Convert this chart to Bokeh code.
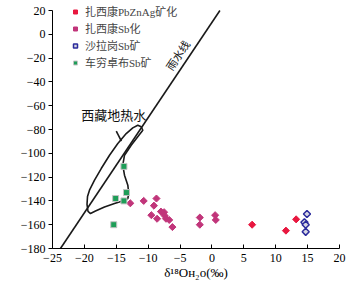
import numpy as np
from bokeh.plotting import figure
from bokeh.models import (Legend, LegendItem, Label, Range1d, FixedTicker)
from bokeh.embed import file_html
from bokeh.resources import INLINE

# ---- data ----
# 扎西康PbZnAg矿化
pbznag_x = [6.3, 11.6, 13.2]
pbznag_y = [-160, -165, -155.5]
# 扎西康Sb化
zxk_sb_x = [-12.8, -10.7, -8.7, -9.1, -9.5, -8.6, -8.0, -7.5, -7.4, -7.2, -6.7, -6.2, -1.9, -1.9, 0.5, 0.6]
zxk_sb_y = [-142, -140, -138, -144, -152, -155, -149, -149.5, -152.5, -155, -156, -162, -154, -160, -152, -156]
# 沙拉岗Sb矿
slg_x = [14.9, 14.5, 14.7, 14.7]
slg_y = [-151, -158, -160, -166]
# 车穷卓布Sb矿
cqzb_x = [-13.8, -13.4, -15.1, -13.8, -15.4]
cqzb_y = [-111, -133, -138, -140, -160]

# Global meteoric water line dD = 8*d18O + 10
gmwl_x = [-23.75, 1.25]
gmwl_y = [8 * v + 10 for v in gmwl_x]

# 西藏地热水 field outline
geo_x = [-11.63, -11.09, -10.84, -11.63, -12.66, -13.71, -13.98, -13.71, -13.19, -13.04,
         -13.19, -14.02, -15.28, -16.85, -18.26, -19.04, -19.43, -19.59, -19.51, -19.2,
         -18.41, -17.36, -16.06, -14.76, -13.44, -12.41]
geo_y = [-76.4, -77.7, -80.6, -86.1, -93.2, -101.6, -110, -118.4, -126.8, -133.8,
         -138, -140.1, -142.2, -145.1, -148.5, -150.6, -148.9, -143, -136.3, -131,
         -122.6, -112.8, -101.6, -91.8, -83.4, -78.6]
leader_x = [-15.0, -14.2]
leader_y = [-81.3, -89.8]

x_ticks = list(range(-25, 21, 5))
y_ticks = list(range(-180, 21, 20))
y_axis_bounds = (-180, 20)

legend_labels = ["扎西康PbZnAg矿化", "扎西康Sb化", "沙拉岗Sb矿", "车穷卓布Sb矿"]

SERIF = "Liberation Serif"
CJK = "'Liberation Serif', 'Noto Sans CJK SC'"

# frame extends 8px above the top tick so the legend is not clipped
p = figure(frame_width=287, frame_height=246,
           x_range=Range1d(-25, 20), y_range=Range1d(-180, 20 + 8 / 1.19),
           output_backend="svg", toolbar_location=None,
           min_border_left=52, min_border_right=14,
           min_border_top=2, min_border_bottom=36)
p.outline_line_color = None
p.grid.visible = False
p.background_fill_color = "white"

p.xaxis.ticker = FixedTicker(ticks=x_ticks)
p.yaxis.ticker = FixedTicker(ticks=y_ticks)
p.yaxis.bounds = y_axis_bounds
for ax in (p.xaxis[0], p.yaxis[0]):
    ax.minor_tick_line_color = None
    ax.axis_line_color = "black"
    ax.major_tick_line_color = "black"
    ax.major_label_text_font = SERIF
    ax.major_label_text_font_size = "12px"
    ax.major_label_text_color = "black"
    ax.axis_label_text_font = SERIF
    ax.axis_label_text_font_size = "13px"
    ax.axis_label_text_font_style = "normal"
    ax.axis_label_text_color = "black"
p.xaxis.major_tick_in = 4
p.xaxis.major_tick_out = 0
p.xaxis.major_label_standoff = 5
p.xaxis.axis_label = "δ¹⁸Oʜ₂ᴏ(‰)"
p.xaxis.axis_label_standoff = 0
p.yaxis.major_tick_in = 0
p.yaxis.major_tick_out = 4
p.yaxis.major_label_standoff = 3

# y-axis title drawn as a label just left of the tick labels
p.add_layout(Label(x=-33, y=121, x_units="screen", y_units="screen", text="δD(‰)",
                   text_font=SERIF, text_font_size="13px", text_align="center",
                   text_baseline="middle", angle=np.pi / 2, text_color="black"))

# lines
p.line(gmwl_x, gmwl_y, line_color="#1a1a1a", line_width=1.6)
p.patch(geo_x, geo_y, fill_color=None, line_color="#1a1a1a", line_width=1.6)
p.line(leader_x, leader_y, line_color="#1a1a1a", line_width=1.6)

r_red = p.scatter(pbznag_x, pbznag_y, marker="square", angle=np.pi / 4, size=5,
                  fill_color="#e8173f", line_color="#e8173f", line_width=1)
r_mag = p.scatter(zxk_sb_x, zxk_sb_y, marker="square", angle=np.pi / 4, size=5,
                  fill_color="#c1357a", line_color="#c1357a", line_width=1)
r_blue = p.scatter(slg_x, slg_y, marker="square", angle=np.pi / 4, size=5,
                   fill_color="#d6d6e2", line_color="#2b2b9c", line_width=1.5)
r_green = p.scatter(cqzb_x, cqzb_y, marker="square", size=6,
                    fill_color="#1e9e58", line_color="#c4c4c4", line_width=1)

legend = Legend(items=[LegendItem(label=t, renderers=[r]) for t, r in
                       zip(legend_labels, [r_red, r_mag, r_blue, r_green])],
                location=(18, 178), padding=0, margin=0, spacing=1,
                glyph_width=10, glyph_height=13, label_height=13, label_standoff=5,
                label_text_font=CJK, label_text_font_size="11px",
                background_fill_alpha=0, border_line_color=None)
p.add_layout(legend, "center")

p.add_layout(Label(x=-15.4, y=-68.5, text="西藏地热水", text_font=CJK,
                   text_font_size="13px", text_align="center", text_baseline="middle",
                   text_color="#111111"))
p.add_layout(Label(x=-5.3, y=-17.8, text="雨水线", text_font=CJK,
                   text_font_size="11px", text_align="center", text_baseline="middle",
                   angle=np.deg2rad(56), text_color="#111111"))

open("out.html", "w").write(file_html(p, INLINE))
